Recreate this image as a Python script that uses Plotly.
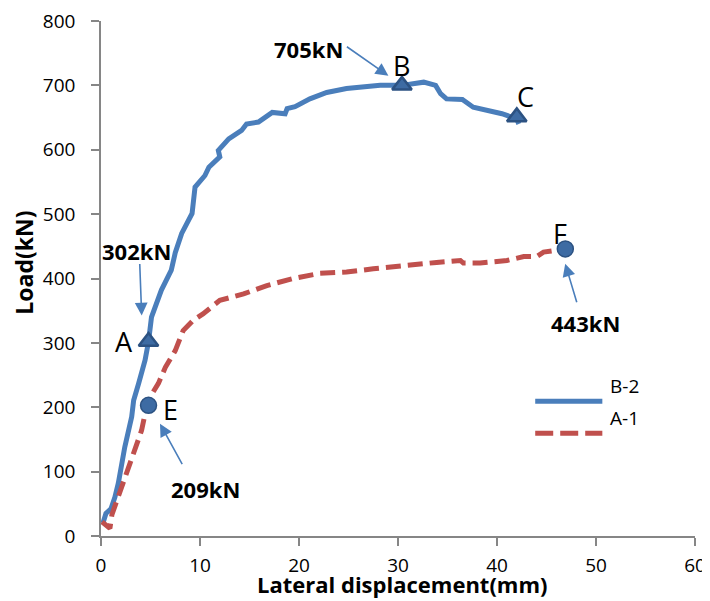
import plotly.graph_objects as go

# ---- data ----
b2_x = [0.2, 0.5, 1.0, 1.4, 1.75, 2.4, 3.1, 3.3, 3.8, 4.45, 4.8, 5.1, 6.1, 7.1, 7.5,
        8.15, 9.2, 9.5, 10.5, 10.9, 12.0, 11.85, 12.9, 14.2, 14.7, 15.9, 17.3, 18.6,
        18.8, 19.6, 21.1, 22.8, 24.8, 26.9, 28.2, 30.4, 32.6, 33.8, 34.3, 34.9, 36.5,
        37.6, 39.0, 40.5, 42.0, 42.2]
b2_y = [20, 35, 42, 60, 82, 138, 185, 211, 237, 273, 302, 340, 382, 413, 440,
        470, 501, 542, 560, 573, 589, 599, 617, 630, 640, 643, 658, 656,
        664, 667, 679, 689, 695, 698, 700, 700, 705, 700, 687, 679, 678,
        666, 661, 656, 648, 640]

a1_x = [0.1, 0.9, 1.1, 1.45, 2.4, 3.1, 4.1, 4.45, 4.95, 5.8, 6.5, 7.5, 8.3, 9.3, 10.3,
        12.0, 14.4, 16.75, 19.4, 22.1, 24.8, 27.5, 30.9, 33.9, 36.3, 36.6, 38.3, 41.0,
        42.7, 44.0, 44.7, 45.7, 46.9]
a1_y = [22, 12, 33, 48, 92, 123, 164, 190, 216, 237, 262, 288, 319, 335, 345,
        366, 376, 389, 400, 408, 410, 415, 421, 425, 428, 424, 424, 428,
        434, 434, 441, 444, 446]

b2_pts_x = [4.8, 30.4, 42.0]
b2_pts_y = [302, 700, 651]
b2_pts_lbl = ["A", "B", "C"]
a1_pts_x = [4.8, 46.9]
a1_pts_y = [203, 446]
a1_pts_lbl = ["E", "F"]

peak_lbl = ["302kN", "705kN", "209kN", "443kN"]

x_ticks = [0, 10, 20, 30, 40, 50, 60]
y_ticks = [0, 100, 200, 300, 400, 500, 600, 700, 800]

BLUE = "#4a7ebb"
RED = "#c0504d"
MK_FILL = "#3d6ba3"
MK_LINE = "#2c5282"
FONT = "Open Sans"

fig = go.Figure()
fig.add_trace(go.Scatter(x=b2_x, y=b2_y, mode="lines", name="B-2",
                         line=dict(color=BLUE, width=5), showlegend=False))
fig.add_trace(go.Scatter(x=a1_x, y=a1_y, mode="lines", name="A-1",
                         line=dict(color=RED, width=5, dash="15px,7px"), showlegend=False))
fig.add_trace(go.Scatter(x=b2_pts_x, y=b2_pts_y, mode="markers", showlegend=False,
                         marker=dict(symbol="triangle-up", size=17, color=MK_FILL,
                                     line=dict(color=MK_LINE, width=2.5))))
fig.add_trace(go.Scatter(x=a1_pts_x, y=a1_pts_y, mode="markers", showlegend=False,
                         marker=dict(symbol="circle", size=16, color=MK_FILL,
                                     line=dict(color=MK_LINE, width=1.5))))

ann = []
# point letters
letter_off = [(-25, 0), (0, -20), (9, -20)]
for (dx, dy), lx, ly, t in zip(letter_off, b2_pts_x, b2_pts_y, b2_pts_lbl):
    ann.append(dict(x=lx, y=ly, text=t, showarrow=False, xshift=dx, yshift=-dy,
                    font=dict(family=FONT, size=27, color="black")))
letter_off2 = [(22, -4), (-5, 15)]
for (dx, dy), lx, ly, t in zip(letter_off2, a1_pts_x, a1_pts_y, a1_pts_lbl):
    ann.append(dict(x=lx, y=ly, text=t, showarrow=False, xshift=dx, yshift=dy,
                    font=dict(family=FONT, size=27, color="black")))

# value labels with arrows (arrow tip at data point; tail offset in px)
arrows = [
    (4.11, 342.5, -2, -53, 3.61, 442),
    (29.03, 715, -43, -30, 21.0, 757),
    (5.96, 174.5, 23, 42, 10.6, 72.5),
    (46.89, 423, 12, 40, 48.9, 331),
]
for (tx, ty, ax, ay, lx, ly), t in zip(arrows, peak_lbl):
    ann.append(dict(x=tx, y=ty, ax=ax, ay=ay, text="", showarrow=True,
                    arrowhead=2, arrowsize=1.6, arrowwidth=1.6, arrowcolor=BLUE))
    ann.append(dict(x=lx, y=ly, text="<b>" + t + "</b>", showarrow=False,
                    font=dict(family=FONT, size=22, color="black")))

# axis titles
ann.append(dict(xref="paper", yref="paper", x=0.507, y=-0.1249, xanchor="center",
                yanchor="bottom", text="<b>Lateral displacement(mm)</b>", showarrow=False,
                borderpad=0, font=dict(family=FONT, size=22, color="black")))
ann.append(dict(xref="paper", yref="paper", x=-0.1297, y=0.5305, xanchor="center",
                yanchor="middle", textangle=-90,
                text="<b>Load(kN)</b>", showarrow=False,
                font=dict(family=FONT, size=23, color="black")))

# legend (drawn)
shapes = []
leg = [("B-2", BLUE, "solid", 0.2616), ("A-1", RED, "18px,7px", 0.1994)]
for name, col, dash, yy in leg:
    shapes.append(dict(type="line", xref="paper", yref="paper", x0=0.731, x1=0.844,
                       y0=yy, y1=yy, line=dict(color=col, width=5, dash=dash)))
    ann.append(dict(xref="paper", yref="paper", x=0.8535, y=yy, xanchor="left",
                    text=name, showarrow=False,
                    font=dict(family=FONT, size=19, color="black")))

axis_common = dict(showgrid=False, zeroline=False, showline=True, linecolor="#868686",
                   linewidth=1.5, ticks="outside", ticklen=8, tickcolor="#868686",
                   tickwidth=1.5, tickfont=dict(family=FONT, size=19, color="black"),
                   ticklabeloverflow="allow", automargin=False)

# page body has an 8px margin; size the figure so the plot lands where intended
fig.update_layout(
    width=702, height=593,
    margin=dict(l=93, r=15, t=13, b=65),
    plot_bgcolor="white", paper_bgcolor="white",
    xaxis=dict(range=[0, 60], tickvals=x_ticks, ticklabelstandoff=3, **axis_common),
    yaxis=dict(range=[0, 800], tickvals=y_ticks, ticklabelstandoff=12, **axis_common),
    annotations=ann, shapes=shapes,
)

fig.write_html("out.html")
